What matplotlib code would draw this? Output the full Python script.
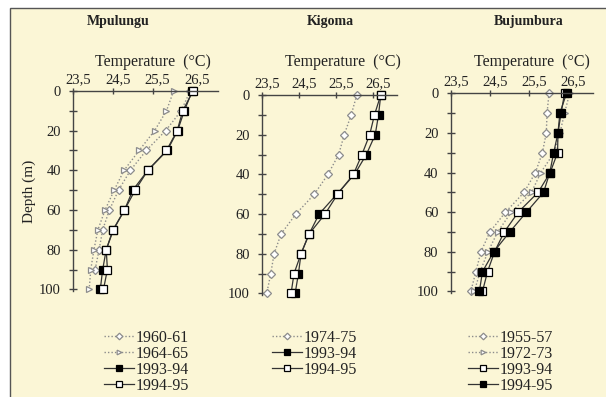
import matplotlib.pyplot as plt
import matplotlib.transforms as mtransforms
from matplotlib.patches import Rectangle
from matplotlib.ticker import FixedLocator, NullFormatter

plt.rcParams['font.family'] = ['Liberation Serif', 'DejaVu Serif']

depths = [0, 10, 20, 30, 40, 50, 60, 70, 80, 90, 100]

# Mpulungu
mp_1960 = [26.45, 26.22, 25.83, 25.34, 24.94, 24.64, 24.41, 24.24, 24.15, 24.05]
mp_1964 = [26.03, 25.85, 25.55, 25.16, 24.78, 24.53, 24.30, 24.12, 24.02, 23.94, 23.90]
mp_1993 = [26.50, 26.30, 26.13, 25.87, 25.38, 25.00, 24.79, 24.50, 24.33, 24.24, 24.18]
mp_1994 = [26.52, 26.26, 26.12, 25.85, 25.38, 25.06, 24.79, 24.51, 24.33, 24.36, 24.26]

# Kigoma
kg_1974 = [26.06, 25.91, 25.72, 25.57, 25.28, 24.91, 24.41, 24.01, 23.82, 23.73, 23.62]
kg_1993 = [26.71, 26.65, 26.56, 26.32, 26.00, 25.52, 25.04, 24.77, 24.55, 24.48, 24.39]
kg_1994 = [26.71, 26.54, 26.41, 26.20, 25.97, 25.54, 25.20, 24.77, 24.55, 24.36, 24.28]

# Bujumbura
bj_1955 = [26.02, 25.97, 25.95, 25.85, 25.67, 25.38, 24.90, 24.50, 24.27, 24.14, 24.01]
bj_1972 = [26.55, 26.42, 26.30, 26.15, 25.81, 25.57, 25.05, 24.70, 24.45, 24.25, 24.10]
bj_1993 = [26.42, 26.33, 26.25, 26.24, 26.05, 25.74, 25.23, 24.87, 24.62, 24.44, 24.31]
bj_1994 = [26.47, 26.30, 26.25, 26.14, 26.04, 25.88, 25.44, 25.01, 24.60, 24.31, 24.23]

xticks = [23.5, 24.5, 25.5, 26.5]
xlabels = ['23,5', '24,5', '25,5', '26,5']

bg = '#FBF6D6'
grey = '#8c8c8c'

fig = plt.figure(figsize=(6.06, 3.97), dpi=100)
fig.patch.set_facecolor('white')
fig.patches.append(Rectangle((10 / 606, -0.05), 1.1, 1.05 - 8 / 397, transform=fig.transFigure,
                             facecolor=bg, edgecolor='#555555', linewidth=1.0, zorder=-1))

# left, bottom, width, height, title, title x (px), temperature label centre x (px)
panels = [
    (0.121, 0.267, 0.2388, 0.504, 'Mpulungu', 118, 153),
    (0.4328, 0.2569, 0.2223, 0.5038, 'Kigoma', 330, 343),
    (0.7442, 0.262, 0.2343, 0.503, 'Bujumbura', 529, 532),
]


def dotted(ax, x, marker, label):
    return ax.plot(x, depths[:len(x)], linestyle=(0, (1, 1.5)), color=grey, linewidth=1.0,
                   marker=marker, markersize=4.5, markerfacecolor='white',
                   markeredgecolor=grey, markeredgewidth=0.9, label=label)[0]


def solid(ax, x, filled, label):
    return ax.plot(x, depths[:len(x)], linestyle='-', color='#333333', linewidth=0.9,
                   marker='s', markersize=5.5, markerfacecolor='black' if filled else 'white',
                   markeredgecolor='black', markeredgewidth=0.9, label=label)[0]


shift = mtransforms.ScaledTranslation(5 / 100, 0, fig.dpi_scale_trans)

axes = []
for left, bottom, w, h, title, tx, lx in panels:
    ax = fig.add_axes([left, bottom, w, h])
    ax.set_facecolor('none')
    ax.set_xlim(23.5, 27.15)
    ax.set_ylim(100.8, 0)
    ax.xaxis.tick_top()
    ax.set_xticks(xticks)
    ax.set_xticklabels(xlabels)
    ax.yaxis.set_major_locator(FixedLocator([0, 20, 40, 60, 80, 100]))
    ax.yaxis.set_minor_locator(FixedLocator([10, 30, 50, 70, 90]))
    ax.yaxis.set_minor_formatter(NullFormatter())
    for s in ['bottom', 'right']:
        ax.spines[s].set_visible(False)
    for s in ['top', 'left']:
        ax.spines[s].set_color('#444444')
        ax.spines[s].set_linewidth(1.0)
    ax.tick_params(axis='x', direction='inout', length=5, width=1, color='#444444',
                   labelsize=10.5, pad=1, labelcolor='#222222')
    ax.tick_params(axis='y', which='both', direction='inout', length=6, width=1,
                   color='#444444', labelsize=10.5, pad=6, labelcolor='#222222')
    for lab in ax.get_xticklabels():
        lab.set_transform(lab.get_transform() + shift)
    fig.text(lx / 606, 1 - 62 / 397, 'Temperature  (\u00b0C)', ha='center',
             va='center', fontsize=11.5, color='#222222')
    fig.text(tx / 606, 1 - 22 / 397, title, ha='center', va='center', fontsize=10,
             fontweight='bold', color='#222222')
    ax.margins(0)
    axes.append(ax)

ax1, ax2, ax3 = axes

h = [dotted(ax1, mp_1960, 'D', '1960-61'),
     dotted(ax1, mp_1964, '>', '1964-65'),
     solid(ax1, mp_1993, True, '1993-94'),
     solid(ax1, mp_1994, False, '1994-95')]
for l in h:
    l.set_clip_on(False)

h2 = [dotted(ax2, kg_1974, 'D', '1974-75'),
      solid(ax2, kg_1993, True, '1993-94'),
      solid(ax2, kg_1994, False, '1994-95')]
for l in h2:
    l.set_clip_on(False)

h3 = [dotted(ax3, bj_1955, 'D', '1955-57'),
      dotted(ax3, bj_1972, '>', '1972-73'),
      solid(ax3, bj_1993, False, '1993-94'),
      solid(ax3, bj_1994, True, '1994-95')]
for l in h3:
    l.set_clip_on(False)

ax1.set_ylabel('Depth (m)', fontsize=11, color='#222222', labelpad=2)

for ax, x0 in [(ax1, 96), (ax2, 264), (ax3, 460)]:
    leg = ax.legend(loc='upper left', bbox_to_anchor=(x0 / 606, 1 - 322 / 397),
                    bbox_transform=fig.transFigure, frameon=False, fontsize=11.5,
                    handlelength=1.9, handletextpad=0.1, labelspacing=0.0,
                    borderpad=0, markerscale=0.75)
    for t in leg.get_texts():
        t.set_color('#222222')

fig.savefig('out.png', dpi=100, facecolor=fig.get_facecolor())
